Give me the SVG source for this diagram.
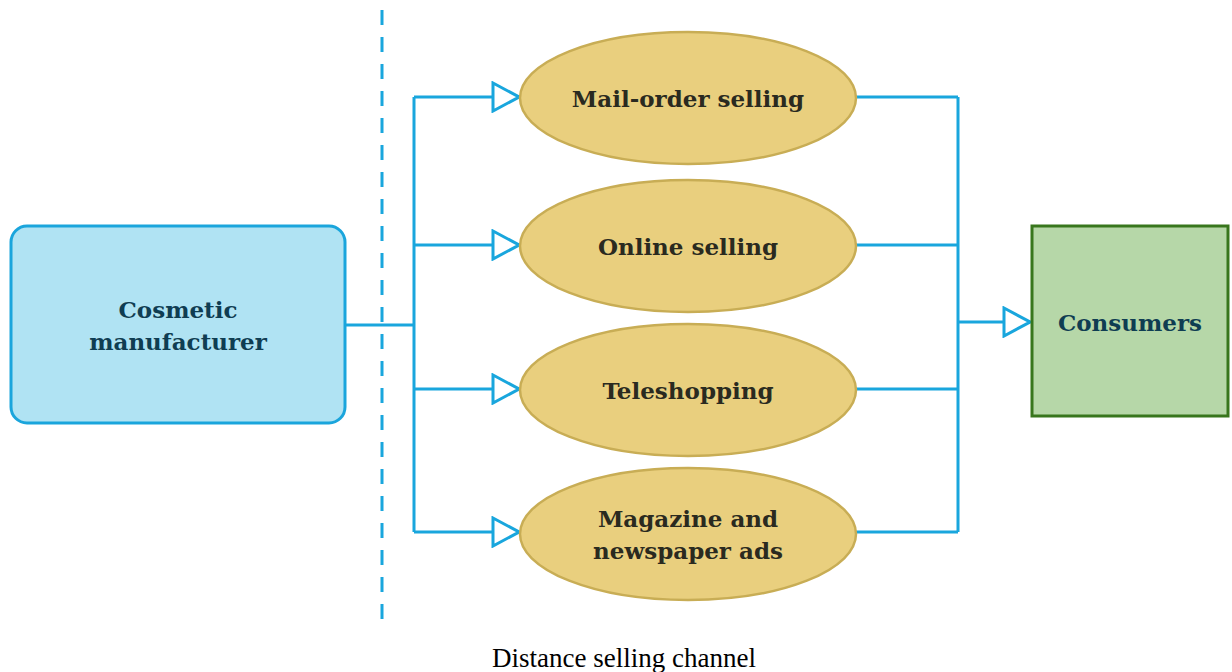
<svg xmlns="http://www.w3.org/2000/svg" width="1232" height="672" viewBox="0 0 1232 672">
<style>
.conn{fill:none;stroke:#19a6dd;stroke-width:3}
.ell{fill:#e9cf7e;stroke:#c8ad55;stroke-width:2.5}
.lbl{font-family:"DejaVu Serif","Liberation Serif",serif;font-weight:bold;font-size:23px;text-anchor:middle;fill:#2a2a20}
.blue{fill:#0f3d52}
</style>
<defs>
<marker id="tri" viewBox="0 0 30 32" refX="28" refY="16" markerWidth="30" markerHeight="32" markerUnits="userSpaceOnUse" orient="auto">
<path d="M2,2 L28,16 L2,30 Z" fill="#fff" stroke="#19a6dd" stroke-width="3"/>
</marker>
</defs>
<rect width="1232" height="672" fill="#fff"/>
<line x1="382" y1="10" x2="382" y2="625" stroke="#19a6dd" stroke-width="3" stroke-dasharray="15 12"/>
<g id="connectors">
<path class="conn" d="M345,325 H414 M414,97 V532"/>
<path class="conn" d="M414,97 H519" marker-end="url(#tri)"/>
<path class="conn" d="M414,245 H519" marker-end="url(#tri)"/>
<path class="conn" d="M414,389 H519" marker-end="url(#tri)"/>
<path class="conn" d="M414,532 H519" marker-end="url(#tri)"/>
<path class="conn" d="M856,97 H958 M856,245 H958 M856,389 H958 M856,532 H958 M958,97 V532"/>
<path class="conn" d="M958,322 H1030" marker-end="url(#tri)"/>
</g>
<g id="manufacturer">
<rect x="11" y="226" width="334" height="197" rx="16" fill="#b0e3f3" stroke="#1aa5dc" stroke-width="3"/>
<text class="lbl blue" x="178" y="318">Cosmetic</text>
<text class="lbl blue" x="178" y="350">manufacturer</text>
</g>
<g id="mail">
<ellipse class="ell" cx="688" cy="98" rx="168" ry="66"/>
<text class="lbl" x="688" y="107">Mail-order selling</text>
</g>
<g id="online">
<ellipse class="ell" cx="688" cy="246" rx="168" ry="66"/>
<text class="lbl" x="688" y="255">Online selling</text>
</g>
<g id="tele">
<ellipse class="ell" cx="688" cy="390" rx="168" ry="66"/>
<text class="lbl" x="688" y="399">Teleshopping</text>
</g>
<g id="magazine">
<ellipse class="ell" cx="688" cy="534" rx="168" ry="66"/>
<text class="lbl" x="688" y="527">Magazine and</text>
<text class="lbl" x="688" y="559">newspaper ads</text>
</g>
<g id="consumers">
<rect x="1032" y="226" width="196" height="190" fill="#b6d7a8" stroke="#38761d" stroke-width="3"/>
<text class="lbl blue" x="1130" y="331">Consumers</text>
</g>
<text x="624" y="667" font-family="Liberation Serif,serif" font-size="27" text-anchor="middle" fill="#000">Distance selling channel</text>
</svg>
